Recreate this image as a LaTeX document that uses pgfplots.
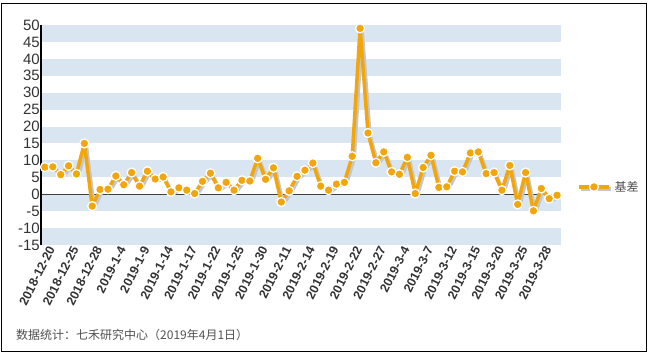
\documentclass[border=0pt]{standalone}
\usepackage{fontspec}
\setmainfont{Liberation Sans}
\newfontfamily\cjk{Noto Sans CJK SC}
\usepackage{pgfplots}
\pgfplotsset{compat=1.18}
\usepackage{pgfplotstable}
\definecolor{lineor}{HTML}{F2A60C}
\definecolor{band}{HTML}{D9E5F0}
\definecolor{shadowc}{HTML}{C2C7CE}
\definecolor{tickc}{HTML}{333333}
\definecolor{footc}{HTML}{505050}
\definecolor{zeroc}{HTML}{404040}
\pgfplotstableread{
x y
0 8.0
1 8.1
2 5.8
3 8.4
4 6.0
5 15.0
6 -3.5
7 1.4
8 1.5
9 5.4
10 2.8
11 6.4
12 2.4
13 6.8
14 4.5
15 5.1
16 0.7
17 1.9
18 1.2
19 0.2
20 3.8
21 6.2
22 1.9
23 3.5
24 1.2
25 4.1
26 3.9
27 10.6
28 4.4
29 7.8
30 -2.3
31 1.0
32 5.3
33 7.1
34 9.2
35 2.4
36 1.2
37 3.0
38 3.5
39 11.2
40 49.0
41 18.1
42 9.3
43 12.5
44 6.6
45 5.9
46 10.9
47 0.2
48 7.9
49 11.5
50 2.0
51 2.2
52 6.8
53 6.6
54 12.2
55 12.5
56 6.1
57 6.4
58 1.2
59 8.5
60 -3.0
61 6.4
62 -4.9
63 1.7
64 -1.3
65 -0.3
}\datatable
\begin{document}
\begin{tikzpicture}
\useasboundingbox (0pt,0pt) rectangle (650pt,356pt);
\draw[black, line width=0.8pt] (1.5pt,5pt) rectangle (646pt,352.5pt);
\begin{axis}[
  at={(41pt,111pt)}, anchor=south west,
  scale only axis, width=520pt, height=220pt,
  xmin=-0.5, xmax=65.5, ymin=-15, ymax=50,
  axis line style={draw=none},
  clip=false,
  xtick={0,3,...,63},
  xticklabels={2018-12-20,2018-12-25,2018-12-28,2019-1-4,2019-1-9,2019-1-14,2019-1-17,2019-1-22,2019-1-25,2019-1-30,2019-2-11,2019-2-14,2019-2-19,2019-2-22,2019-2-27,2019-3-4,2019-3-7,2019-3-12,2019-3-15,2019-3-20,2019-3-25,2019-3-28},
  ytick={-15,-10,-5,0,5,10,15,20,25,30,35,40,45,50},
  yticklabels={-15,-10,-5,0,5,10,15,20,25,30,35,40,45,50},
  major tick length=0pt,
  xticklabel style={rotate=63, anchor=east, font=\fontsize{12.5}{13}\selectfont\bfseries, text=tickc, inner sep=0.5pt, yshift=-7pt, xshift=1.5pt},
  yticklabel style={font=\fontsize{15}{15}\selectfont, text=tickc, inner sep=1pt},
  legend style={at={(1.025,0.264)}, anchor=west, draw=none, fill=none, font=\cjk\fontsize{12}{12}\selectfont, text=footc},
  legend cell align=left,
]
\fill[band] (axis cs:-0.5,45) rectangle (axis cs:65.5,50);
\fill[band] (axis cs:-0.5,35) rectangle (axis cs:65.5,40);
\fill[band] (axis cs:-0.5,25) rectangle (axis cs:65.5,30);
\fill[band] (axis cs:-0.5,15) rectangle (axis cs:65.5,20);
\fill[band] (axis cs:-0.5,5) rectangle (axis cs:65.5,10);
\fill[band] (axis cs:-0.5,-5) rectangle (axis cs:65.5,0);
\fill[band] (axis cs:-0.5,-15) rectangle (axis cs:65.5,-10);
\draw[zeroc, line width=1.2pt] (axis cs:-0.5,0) -- (axis cs:65.5,0);
\draw[black, line width=1.8pt] (axis cs:-0.5,-15) -- (axis cs:-0.5,50);
\addplot[shadowc, line width=3.5pt, line join=round, no markers, xshift=2pt, yshift=-2pt, forget plot] table[x=x,y=y]{\datatable};
\addplot[lineor, line width=3.5pt, line join=round, mark=*, mark size=4.5pt, mark options={fill=lineor, draw=white, line width=1.3pt},
  legend image code/.code={
    \draw[shadowc, line width=3.5pt] (2pt,-2pt) -- (32pt,-2pt);
    \draw[lineor, line width=3.5pt] (0pt,0pt) -- (30pt,0pt);
    \fill[lineor, draw=white, line width=1.3pt] (15pt,0pt) circle (4.5pt);
  }] table[x=x,y=y]{\datatable};
\addlegendentry{基差}
\end{axis}
\node[anchor=west, text=footc, font=\cjk\fontsize{12}{12}\selectfont, inner sep=0pt] at (16pt,21pt) {数据统计：七禾研究中心（2019年4月1日）};
\end{tikzpicture}
\end{document}
